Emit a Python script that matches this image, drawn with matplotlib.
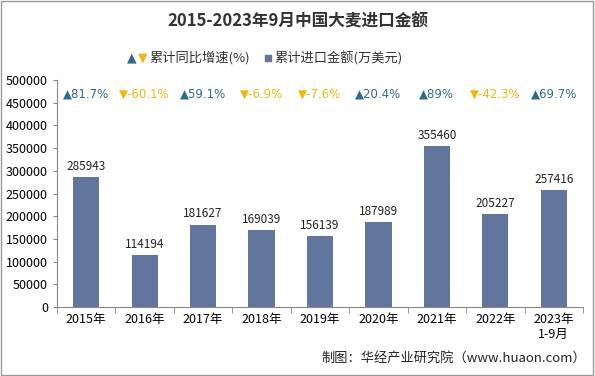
import numpy as np
import matplotlib
matplotlib.use('Agg')
import matplotlib.pyplot as plt
from matplotlib.patches import Rectangle

plt.rcParams['font.family'] = ['Noto Sans CJK SC', 'DejaVu Sans']

years = ['2015年', '2016年', '2017年', '2018年', '2019年', '2020年', '2021年', '2022年', '2023年\n1-9月']
amount = [285943, 114194, 181627, 169039, 156139, 187989, 355460, 205227, 257416]
growth = [81.7, -60.1, 59.1, -6.9, -7.6, 20.4, 89, -42.3, 69.7]

bar_color = '#62769d'
up_color = '#2f6a8c'
down_color = '#f2b70f'

fig = plt.figure(figsize=(5.95, 3.76), dpi=100)
ax = fig.add_axes([57 / 595, 1 - 307 / 376, 526 / 595, 227 / 376])

x = np.arange(len(years))
ax.bar(x, amount, width=0.45, color=bar_color, zorder=2)
for i, v in enumerate(amount):
    ax.text(i, v + 9000, str(v), ha='center', va='bottom', fontsize=8.5, color='#222222')

for i, g in enumerate(growth):
    if g >= 0:
        sym, c = '▲', up_color
    else:
        sym, c = '▼', down_color
    ax.text(i, 470000, sym + f'{g:g}%', ha='center', va='center', fontsize=8.5, color=c,
            family=['DejaVu Sans'])

ax.set_xlim(-0.5, len(years) - 0.5)
ax.set_ylim(0, 500000)
ax.set_yticks(np.arange(0, 500001, 50000))
ax.set_xticks(x)
ax.set_xticklabels(years, fontsize=9)
ax.tick_params(axis='y', labelsize=9, length=3, color='#888888')
ax.tick_params(axis='x', length=0, pad=4)
ax.set_xticks(np.arange(-0.5, len(years), 1), minor=True)
ax.tick_params(axis='x', which='minor', length=4, color='#888888')
for s in ['top', 'right']:
    ax.spines[s].set_visible(False)
ax.spines['left'].set_color('#888888')
ax.spines['bottom'].set_color('#888888')

fig.text(0.5, 1 - 22 / 376, '2015-2023年9月中国大麦进口金额', ha='center', va='center',
         fontsize=12, fontweight='bold', color='#333333')

# legend
fig.text(0.229, 1 - 58 / 376, '▲', color=up_color, fontsize=9, ha='right', va='center',
         family=['DejaVu Sans'])
fig.text(0.248, 1 - 58 / 376, '▼', color=down_color, fontsize=9, ha='right', va='center',
         family=['DejaVu Sans'])
fig.text(0.251, 1 - 58 / 376, '累计同比增速(%)', fontsize=9.5, ha='left', va='center', color='#333333')
fig.patches.append(Rectangle((0.446, 1 - 61 / 376), 6 / 595, 6 / 376, transform=fig.transFigure,
                             color=bar_color))
fig.text(0.461, 1 - 58 / 376, '累计进口金额(万美元)', fontsize=9.5, ha='left', va='center', color='#333333')

fig.text(0.985, 1 - 358 / 376, '制图：华经产业研究院（www.huaon.com）', fontsize=9.5,
         ha='right', va='center', color='#222222')

fig.patches.append(Rectangle((0.002, 0.003), 0.995, 0.994, transform=fig.transFigure,
                             fill=False, edgecolor='#999999', linewidth=1))

fig.savefig('out.png', dpi=100)
